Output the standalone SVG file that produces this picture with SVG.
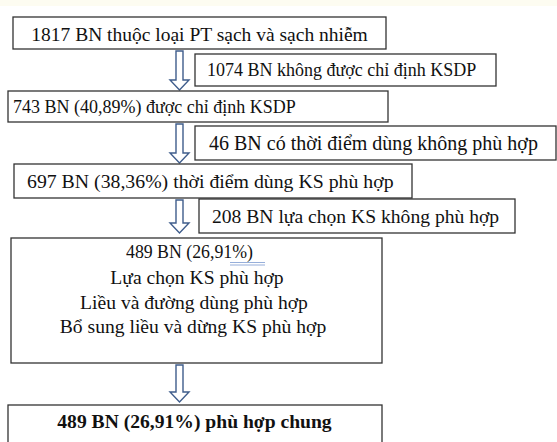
<svg xmlns="http://www.w3.org/2000/svg" width="557" height="442" viewBox="0 0 557 442">
<defs>
<style>
.box{fill:#fff;stroke:#333;stroke-width:1.3}
.t{font-family:"Liberation Serif","Times New Roman",serif;font-size:19.6px;fill:#111}
.c{text-anchor:middle}
.b{font-weight:bold}
.arr{fill:#fff;stroke:#3f5d8c;stroke-width:1.4;stroke-linejoin:miter}
.ul{stroke:#7c9ad0;stroke-width:0.8}
</style>
</defs>
<rect x="0" y="0" width="557" height="442" fill="#fff"/>
<rect x="0" y="0" width="557" height="6" fill="#fdfcf1"/>
<g id="connectors">
<path class="arr" d="M176,51 H183 V80 H189 L179.5,90 L170,80 H176 Z"/>
<path class="arr" d="M176,124 H183 V153 H189 L179.5,163 L170,153 H176 Z"/>
<path class="arr" d="M176,200 H183 V223 H189 L179.5,233 L170,223 H176 Z"/>
<path class="arr" d="M176,365 H183 V392 H189 L179.5,402 L170,392 H176 Z"/>
</g>
<g id="n1"><rect class="box" x="13" y="17" width="373" height="32"/><text class="t c" x="199.5" y="40.5" style="font-size:19.5px">1817 BN thuộc loại PT sạch và sạch nhiễm</text></g>
<g id="n2"><rect class="box" x="195" y="54" width="301" height="32"/><text class="t" x="207" y="75.5" style="font-size:18px">1074 BN không được chỉ định KSDP</text></g>
<g id="n3"><rect class="box" x="8" y="91" width="380" height="31"/><text class="t" x="13" y="112.5" style="font-size:18px">743 BN (40,89%) được chỉ định KSDP</text></g>
<g id="n4"><rect class="box" x="195" y="126" width="361" height="34"/><text class="t" x="209" y="150" style="font-size:20px">46 BN có thời điểm dùng không phù hợp</text></g>
<g id="n5"><rect class="box" x="14" y="164" width="398" height="34"/><text class="t" x="27" y="188" style="font-size:19.8px">697 BN (38,36%) thời điểm dùng KS phù hợp</text></g>
<g id="n6"><rect class="box" x="199" y="199" width="316" height="34"/><text class="t" x="212" y="223">208 BN lựa chọn KS không phù hợp</text></g>
<g id="n7"><rect class="box" x="11" y="238" width="371" height="125"/>
<text class="t" x="126" y="258" style="font-size:17.8px">489 BN (26,91%)</text>
<line class="ul" x1="230" y1="262.5" x2="265" y2="262.5"/><line class="ul" x1="230" y1="265" x2="265" y2="265"/>
<text class="t c" x="197" y="284">Lựa chọn KS phù hợp</text>
<text class="t c" x="194" y="309">Liều và đường dùng phù hợp</text>
<text class="t c" x="193" y="333">Bổ sung liều và dừng KS phù hợp</text></g>
<g id="n8"><rect class="box" x="8" y="405" width="374" height="45"/><text class="t c b" x="194.5" y="428">489 BN (26,91%) phù hợp chung</text></g>
</svg>
